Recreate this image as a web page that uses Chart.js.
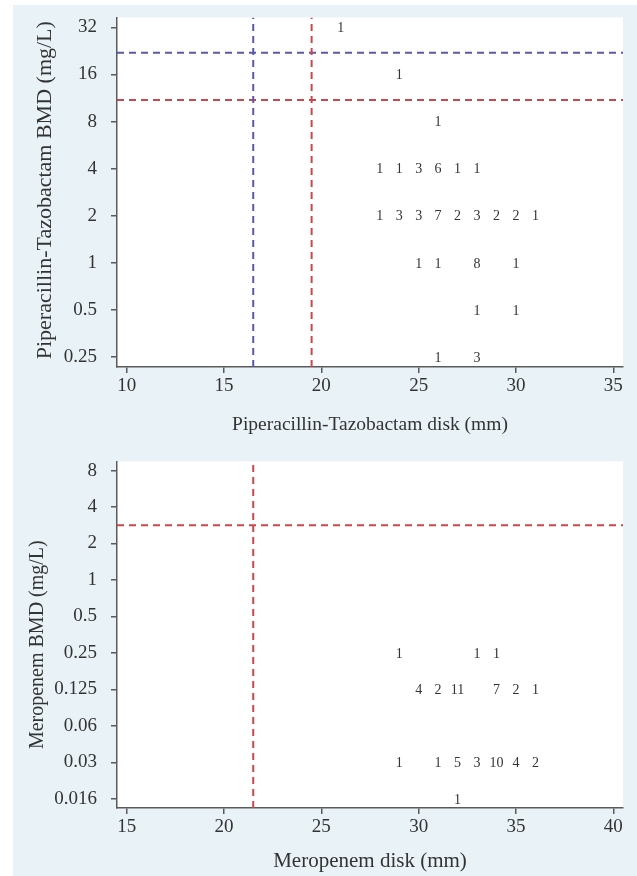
<!DOCTYPE html>
<html>
<head>
<meta charset="utf-8">
<script src="https://cdn.jsdelivr.net/npm/chart.js@4.4.0/dist/chart.umd.min.js"></script>
<style>
  html, body { margin: 0; padding: 0; background: #fff; }
  body { width: 637px; height: 876px; position: relative; overflow: hidden; }
  #panel { position: absolute; left: 13px; top: 5px; width: 624px; height: 871px; background: #e9f2f6; }
  .box { position: absolute; left: 13px; width: 624px; }
  /* plot top = box top + label half-height + tick padding (25.4px) */
  #box1 { top: -8px; height: 453px; }
  #box2 { top: 436px; height: 440px; }
</style>
</head>
<body>
<div id="panel"></div>
<div class="box" id="box1"><canvas id="pipChart"></canvas></div>
<div class="box" id="box2"><canvas id="merChart"></canvas></div>
<script>
// Piperacillin-Tazobactam: disk zone (mm), BMD MIC (mg/L), isolates per cell
const pipDisk  = [21, 24, 26, 23, 24, 25, 26, 27, 28, 23, 24, 25, 26, 27, 28, 29, 30, 31, 25, 26, 28, 30, 28, 30, 26, 28];
const pipMic   = [32, 16, 8, 4, 4, 4, 4, 4, 4, 2, 2, 2, 2, 2, 2, 2, 2, 2, 1, 1, 1, 1, 0.5, 0.5, 0.25, 0.25];
const pipCount = [1, 1, 1, 1, 1, 3, 6, 1, 1, 1, 3, 3, 7, 2, 3, 2, 2, 1, 1, 1, 8, 1, 1, 1, 1, 3];

// Meropenem
const merDisk  = [29, 33, 34, 30, 31, 32, 34, 35, 36, 29, 31, 32, 33, 34, 35, 36, 32];
const merMic   = [0.25, 0.25, 0.25, 0.125, 0.125, 0.125, 0.125, 0.125, 0.125,
                  0.03125, 0.03125, 0.03125, 0.03125, 0.03125, 0.03125, 0.03125, 0.015625];
const merCount = [1, 1, 1, 4, 2, 11, 7, 2, 1, 1, 1, 5, 3, 10, 4, 2, 1];

// tick values / labels
const pipDiskTicks = [10, 15, 20, 25, 30, 35];
const pipMicTicks  = [0.25, 0.5, 1, 2, 4, 8, 16, 32];
const pipMicLabels = ['0.25', '0.5', '1', '2', '4', '8', '16', '32'];
const merDiskTicks = [15, 20, 25, 30, 35, 40];
const merMicTicks  = [0.015625, 0.03125, 0.0625, 0.125, 0.25, 0.5, 1, 2, 4, 8];
const merMicLabels = ['0.016', '0.03', '0.06', '0.125', '0.25', '0.5', '1', '2', '4', '8'];

// breakpoint lines
const pipDiskBreaks = [16.5, 19.5];
const pipMicBreaks  = [22, 11];
const pipBreakColors = ['#5b58ab', '#c9474d'];
const merDiskBreaks = [21.5];
const merMicBreaks  = [2.83];
const merBreakColors = ['#c9474d'];

const SERIF = '"Liberation Serif", "DejaVu Serif", serif';
const AXIS = '#5a5a5a';

// white plot area on the tinted panel
const plotBg = {
    id: 'plotBg',
    beforeDraw(chart) {
        const a = chart.chartArea, ctx = chart.ctx;
        ctx.save();
        ctx.fillStyle = '#ffffff';
        ctx.fillRect(a.left, a.top, a.right - a.left, a.bottom - a.top);
        ctx.restore();
    }
};

// write the count at each cell position
const countLabels = {
    id: 'countLabels',
    afterDatasetsDraw(chart) {
        const ds = chart.data.datasets[0];
        const meta = chart.getDatasetMeta(0);
        const ctx = chart.ctx;
        ctx.save();
        ctx.font = '14px ' + SERIF;
        ctx.fillStyle = '#333';
        ctx.textAlign = 'center';
        ctx.textBaseline = 'middle';
        meta.data.forEach((pt, i) => {
            ctx.fillText(String(ds.data[i].n), pt.x, pt.y + 1);
        });
        ctx.restore();
    }
};

// rotated y title, placed by hand so it can sit off-centre like the original
const yTitle = {
    id: 'yTitle',
    afterDraw(chart, args, opts) {
        const a = chart.chartArea, ctx = chart.ctx;
        ctx.save();
        ctx.translate(opts.x, (a.top + a.bottom) / 2 + opts.dy);
        ctx.rotate(-Math.PI / 2);
        ctx.font = opts.size + 'px ' + SERIF;
        ctx.fillStyle = '#333';
        ctx.textAlign = 'center';
        ctx.textBaseline = 'middle';
        ctx.fillText(opts.text, 0, 0);
        ctx.restore();
    }
};

function makeChart(id, o) {
    const cells = o.disk.map((d, i) => ({ x: d, y: o.mic[i], n: o.count[i] }));
    const datasets = [{
        type: 'scatter', data: cells, pointRadius: 0, pointHoverRadius: 0
    }];
    o.diskBreaks.forEach((b, i) => datasets.push({
        type: 'line', data: [{ x: b, y: o.yMin }, { x: b, y: o.yMax }],
        borderColor: o.colors[i], borderWidth: 2, borderDash: [7, 5], pointRadius: 0, fill: false
    }));
    o.micBreaks.forEach((b, i) => datasets.push({
        type: 'line', data: [{ x: o.xMin, y: b }, { x: o.xMax, y: b }],
        borderColor: o.colors[i], borderWidth: 2, borderDash: [7, 5], pointRadius: 0, fill: false
    }));

    return new Chart(document.getElementById(id), {
        type: 'scatter',
        data: { datasets },
        plugins: [plotBg, countLabels, yTitle],
        options: {
            responsive: true,
            maintainAspectRatio: false,
            animation: false,
            layout: { padding: { top: 0, right: 14, bottom: 0, left: 0 } },
            plugins: {
                legend: { display: false },
                tooltip: { enabled: false },
                yTitle: { text: o.yTitle, x: o.yTitleX, dy: o.yTitleDy, size: o.yTitleSize }
            },
            scales: {
                x: {
                    type: 'linear', min: o.xMin, max: o.xMax,
                    afterBuildTicks: s => { s.ticks = o.diskTicks.map(v => ({ value: v })); },
                    afterFit: s => { s.height = o.xHeight; },
                    ticks: { color: '#333', font: { family: SERIF, size: 19 }, padding: 2, autoSkip: false, maxRotation: 0 },
                    grid: { drawOnChartArea: false, drawTicks: true, tickLength: 6, color: AXIS, lineWidth: 1.5 },
                    border: { display: true, color: AXIS, width: 1.5 },
                    title: { display: true, text: o.xTitle, color: '#333',
                             font: { family: SERIF, size: o.xTitleSize }, padding: { top: 0, bottom: o.xTitlePad } }
                },
                y: {
                    type: 'logarithmic', min: o.yMin, max: o.yMax,
                    afterBuildTicks: s => { s.ticks = o.micTicks.map(v => ({ value: v })); },
                    afterFit: s => { s.width = 104; },
                    ticks: { color: '#333', font: { family: SERIF, size: 19, lineHeight: 1.2 }, padding: 14, autoSkip: false,
                             callback: (v, i) => o.micLabels[i] },
                    grid: { drawOnChartArea: false, drawTicks: true, tickLength: 6, color: AXIS, lineWidth: 1.5 },
                    border: { display: true, color: AXIS, width: 1.5 },
                    title: { display: false }
                }
            }
        }
    });
}

makeChart('pipChart', {
    disk: pipDisk, mic: pipMic, count: pipCount,
    diskTicks: pipDiskTicks, micTicks: pipMicTicks, micLabels: pipMicLabels,
    diskBreaks: pipDiskBreaks, micBreaks: pipMicBreaks, colors: pipBreakColors,
    xMin: 9.5, xMax: 35.5, yMin: 0.25 / Math.pow(2, 0.21), yMax: 32 * Math.pow(2, 0.21),
    xHeight: 78,
    xTitle: 'Piperacillin-Tazobactam disk (mm)', xTitlePad: 8, xTitleSize: 19.5,
    yTitle: 'Piperacillin-Tazobactam BMD (mg/L)', yTitleX: 32, yTitleDy: -2, yTitleSize: 22
});

makeChart('merChart', {
    disk: merDisk, mic: merMic, count: merCount,
    diskTicks: merDiskTicks, micTicks: merMicTicks, micLabels: merMicLabels,
    diskBreaks: merDiskBreaks, micBreaks: merMicBreaks, colors: merBreakColors,
    xMin: 14.5, xMax: 40.5, yMin: 0.015625 / Math.pow(2, 0.25), yMax: 8 * Math.pow(2, 0.25),
    xHeight: 68,
    xTitle: 'Meropenem disk (mm)', xTitlePad: 2, xTitleSize: 21,
    yTitle: 'Meropenem BMD (mg/L)', yTitleX: 25, yTitleDy: 10, yTitleSize: 20
});
</script>
</body>
</html>
